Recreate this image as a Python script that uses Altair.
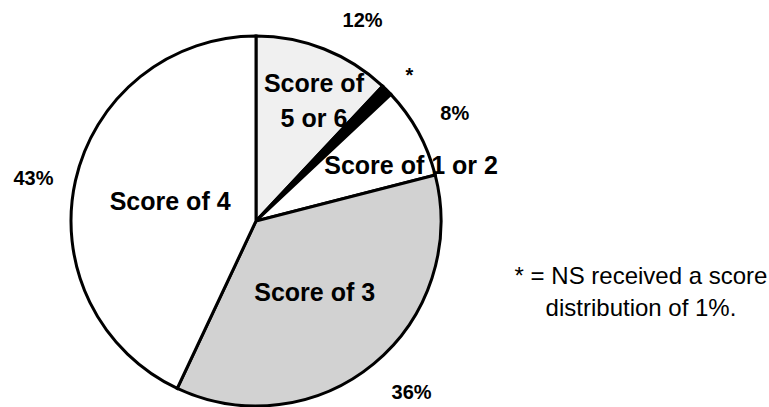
import altair as alt
import pandas as pd

# Score distribution shares (percent), clockwise from 12 o'clock
categories = ["Score of 5 or 6", "NS", "Score of 1 or 2", "Score of 3", "Score of 4"]
shares = [12, 1, 8, 36, 43]
fills = ["#f0f0f0", "#000000", "#ffffff", "#d2d2d2", "#ffffff"]
inner_labels = ["Score of\n5 or 6", "", "Score of 1 or 2", "Score of 3", "Score of 4"]
outer_labels = ["12%", "*", "8%", "36%", "43%"]

df = pd.DataFrame({
    "idx": list(range(len(categories))),
    "category": categories,
    "share": shares,
    "fill": fills,
    "inner": inner_labels,
    "outer": outer_labels,
})

CX, CY, R = 256, 221, 185
FONT = "Liberation Sans"

base = alt.Chart(df).encode(
    theta=alt.Theta("share:Q", stack=True),
    order=alt.Order("idx:Q"),
    x=alt.value(CX),
    y=alt.value(CY),
)

pie = base.mark_arc(radius=R, stroke="black", strokeWidth=3, strokeJoin="miter").encode(
    fill=alt.Fill("fill:N", scale=None)
)

# label placement per slice: (radius, dx, dy)
inner_style = {
    "Score of 5 or 6": (133, 9, -13),
    "Score of 1 or 2": (137, 35, 11),
    "Score of 3": (92, 0, 1),
    "Score of 4": (88, 0, 0),
}
outer_style = {
    "Score of 5 or 6": (227, 23, 11),
    "NS": (214, 2, 6),
    "Score of 1 or 2": (228, -1, 3),
    "Score of 3": (230, 9, -5),
    "Score of 4": (227, -1, 8),
}

layers = [pie]
for cat, (r, dx, dy) in inner_style.items():
    layers.append(
        base.mark_text(
            radius=r, dx=dx, dy=dy, font=FONT, fontSize=25, fontWeight="bold",
            lineBreak="\n", lineHeight=35, align="center", baseline="middle", color="black",
        ).encode(text=alt.condition(alt.datum.category == cat, "inner:N", alt.value("")))
    )
for cat, (r, dx, dy) in outer_style.items():
    layers.append(
        base.mark_text(
            radius=r, dx=dx, dy=dy, font=FONT, fontSize=20, fontWeight="bold",
            align="center", baseline="middle", color="black",
        ).encode(text=alt.condition(alt.datum.category == cat, "outer:N", alt.value("")))
    )

note = alt.Chart(pd.DataFrame({"t": ["* = NS received a score\ndistribution of 1%."]})).mark_text(
    font=FONT, fontSize=24, lineBreak="\n", lineHeight=32, align="center", baseline="alphabetic",
    color="black",
).encode(text="t:N", x=alt.value(641), y=alt.value(284))
layers.append(note)

chart = alt.layer(*layers).properties(
    width=769, height=407,
    autosize=alt.AutoSizeParams(type="none"),
    padding=0,
    background="white",
).configure_view(stroke=None)

chart.save("out.html", embed_options={"renderer": "svg", "actions": False})
